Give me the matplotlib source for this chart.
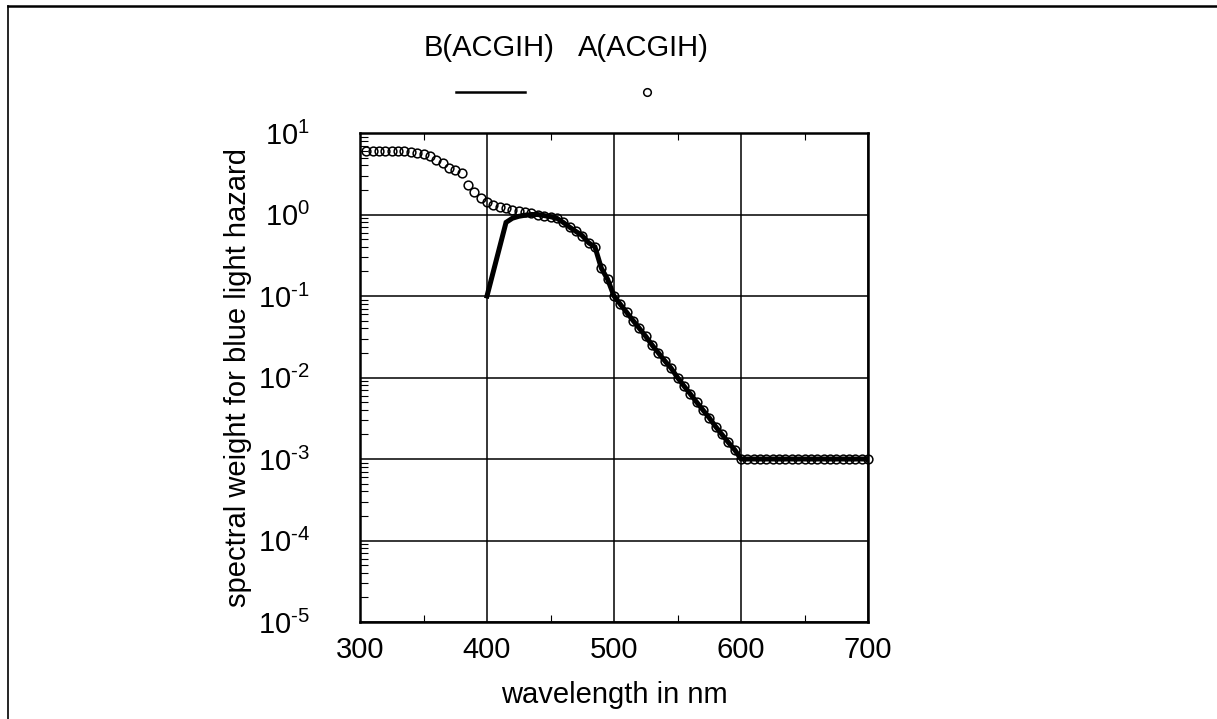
import math
import matplotlib
matplotlib.use("Agg")
import matplotlib.pyplot as plt
from matplotlib.lines import Line2D
from matplotlib.ticker import LogLocator, FixedLocator, FuncFormatter, NullFormatter

plt.rcParams['font.family'] = ['Liberation Sans', 'DejaVu Sans']
plt.rcParams['mathtext.fontset'] = 'custom'
plt.rcParams['mathtext.rm'] = 'Liberation Sans'
plt.rcParams['mathtext.it'] = 'Liberation Sans:italic'

# Aphakic hazard function A(lambda), 305-700 nm in 5 nm steps
wl_a = list(range(305, 705, 5))
a_vals = [6.00, 6.00, 6.00, 6.00, 6.00, 6.00, 6.00,
          5.88, 5.71, 5.46, 5.22, 4.62, 4.29, 3.75, 3.56, 3.19,
          2.31, 1.88, 1.58, 1.43, 1.30, 1.25, 1.20, 1.15, 1.11,
          1.07, 1.03, 1.00, 0.97, 0.94, 0.90, 0.80, 0.70, 0.62,
          0.55, 0.45, 0.40, 0.22, 0.16,
          0.100, 0.079, 0.063, 0.050, 0.040, 0.032, 0.025, 0.020,
          0.016, 0.013, 0.010, 0.0079, 0.0063, 0.0050, 0.0040,
          0.0032, 0.0025, 0.0020, 0.0016, 0.0013, 0.0010,
          0.001, 0.001, 0.001, 0.001, 0.001, 0.001, 0.001, 0.001,
          0.001, 0.001, 0.001, 0.001, 0.001, 0.001, 0.001, 0.001,
          0.001, 0.001, 0.001, 0.001]

# Blue light hazard function B(lambda), 400-700 nm in 5 nm steps
wl_b = list(range(400, 705, 5))
b_vals = [0.10, 0.20, 0.40, 0.80, 0.90, 0.95, 0.98, 1.00, 1.00,
          0.97, 0.94, 0.90, 0.80, 0.70, 0.62, 0.55, 0.45, 0.40,
          0.22, 0.16,
          0.100, 0.079, 0.063, 0.050, 0.040, 0.032, 0.025, 0.020,
          0.016, 0.013, 0.010, 0.0079, 0.0063, 0.0050, 0.0040,
          0.0032, 0.0025, 0.0020, 0.0016, 0.0013, 0.0010,
          0.001, 0.001, 0.001, 0.001, 0.001, 0.001, 0.001, 0.001,
          0.001, 0.001, 0.001, 0.001, 0.001, 0.001, 0.001, 0.001,
          0.001, 0.001, 0.001, 0.001]

x_ticks = [300, 400, 500, 600, 700]
x_minor = [350, 450, 550, 650]
y_decades = [1e-5, 1e-4, 1e-3, 1e-2, 1e-1, 1e0, 1e1]

FS = 21

W, H = 1217, 719
fig = plt.figure(figsize=(W / 100, H / 100), dpi=100)

# outer frame (top and left edges)
fig.add_artist(Line2D([8 / W, 1.0], [1 - 6 / H, 1 - 6 / H], color='black', lw=1.8,
                      transform=fig.transFigure))
fig.add_artist(Line2D([8 / W, 8 / W], [0.0, 1 - 6 / H], color='black', lw=1.2,
                      transform=fig.transFigure))

ax = fig.add_axes([360 / W, 1 - 622 / H, 508 / W, 489 / H])
ax.set_yscale('log')
ax.set_xlim(300, 700)
ax.set_ylim(1e-5, 1e1)

ax.plot(wl_b, b_vals, color='black', lw=3.6, solid_joinstyle='miter', zorder=3)
ax.plot(wl_a, a_vals, linestyle='none', marker='o', ms=6.3, mfc='none',
        mec='black', mew=1.1, zorder=4, clip_on=False)

ax.xaxis.set_major_locator(FixedLocator(x_ticks))
ax.xaxis.set_minor_locator(FixedLocator(x_minor))
ax.yaxis.set_major_locator(FixedLocator(y_decades))
ax.yaxis.set_minor_locator(LogLocator(base=10, subs=range(2, 10), numticks=20))
ax.yaxis.set_minor_formatter(NullFormatter())


def decade_label(v, pos):
    exp = int(round(math.log10(v)))
    return r'$\mathregular{10^{\text{%d}}}$' % exp


ax.yaxis.set_major_formatter(FuncFormatter(decade_label))

ax.grid(True, which='major', color='black', lw=1.1)
ax.tick_params(which='both', direction='in', top=True, right=False, labelsize=FS,
               color='black')
ax.tick_params(which='major', length=0, pad=10)
ax.tick_params(axis='y', which='major', pad=36)
ax.tick_params(which='minor', length=5, width=0.8)
ax.tick_params(axis='y', which='minor', right=False, length=6)
for s in ax.spines.values():
    s.set_linewidth(1.8)

ax.set_xlabel('wavelength in nm', fontsize=FS, labelpad=12)
ax.set_ylabel('spectral weight for blue light hazard', fontsize=FS, labelpad=4)

# legend drawn above the plot area
fig.text(489 / W, 1 - 48 / H, 'B(ACGIH)', fontsize=FS, ha='center', va='center')
fig.text(643 / W, 1 - 48 / H, 'A(ACGIH)', fontsize=FS, ha='center', va='center')
fig.add_artist(Line2D([456 / W, 525 / W], [1 - 92 / H, 1 - 92 / H], color='black',
                      lw=1.8, transform=fig.transFigure))
fig.add_artist(Line2D([647 / W], [1 - 92 / H], linestyle='none', marker='o', ms=5.5,
                      mfc='white', mec='black', mew=1.1, transform=fig.transFigure))

fig.savefig('out.png', dpi=100)
